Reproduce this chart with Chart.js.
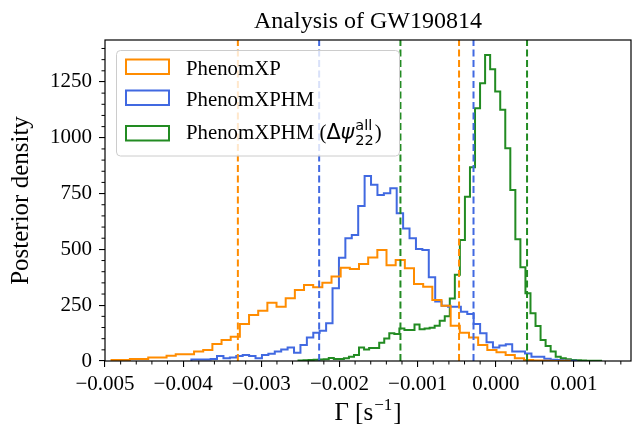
<!DOCTYPE html>
<html>
<head>
<meta charset="utf-8">
<script src="https://cdn.jsdelivr.net/npm/chart.js@4.4.0/dist/chart.umd.min.js"></script>
<style>
  html, body { margin: 0; padding: 0; background: #fff; }
  #wrap { width: 633px; height: 432px; }
</style>
</head>
<body>
<div id="wrap"><canvas id="myChart" width="633" height="432"></canvas></div>
<script>
// histogram bins: first edge, bin width, density per bin
const orangeStart = -0.004916;
const orangeWidth = 0.00011726;
const orangeCounts = [5, 5, 9, 9, 16, 16, 24, 30, 30, 42, 49, 76, 94, 109, 166, 206, 225, 261, 243, 281,
  318, 340, 330, 351, 378, 418, 412, 435, 464, 497, 429, 453, 415, 345, 333, 273, 248, 158, 127, 105,
  72, 49, 39, 27, 12, 4, 2, 1, 0, 1];

const blueStart = -0.003895;
const blueWidth = 0.0000821;
const blueCounts = [7, 7, 7, 9, 22, 12, 16, 22, 27, 22, 12, 27, 33, 42, 52, 61, 37,
  72, 105, 127, 136, 169, 326, 463, 550, 565, 694, 829, 789, 744, 751, 774, 662, 594, 550, 502, 497, 375, 266, 248,
  243, 243, 221, 211, 166, 124, 84, 61, 69, 75, 42, 42, 34, 19, 19, 10, 6, 4, 2, 1];

const greenStart = -0.002524;
const greenWidth = 0.00006452;
const greenCounts = [2, 3, 5, 6, 7, 8, 13, 9, 9, 12, 19, 27, 60, 51, 58, 58, 82, 101, 124, 121,
  146, 139, 139, 164, 142, 146, 149, 158, 180, 200, 280, 386, 542, 736, 868, 1132, 1244, 1371, 1307, 1207,
  1125, 953, 766, 545, 420, 303, 214, 157, 94, 67, 42, 19, 12, 8, 5, 3, 2, 1, 1, 1];

// 90% interval bounds (dashed lines)
const orangeBounds = [-0.0033, -0.00047];
const blueBounds = [-0.00226, -0.000285];
const greenBounds = [-0.00122, 0.00040];

const seriesLabels = ['PhenomXP', 'PhenomXPHM', 'PhenomXPHM'];
const colors = ['#ff8c00', '#4169e1', '#228b22'];

const xTicks = [-0.005, -0.004, -0.003, -0.002, -0.001, 0, 0.001];
const xTickLabels = ['\u22120.005', '\u22120.004', '\u22120.003', '\u22120.002', '\u22120.001', '0.000', '0.001'];
const yTicks = [0, 250, 500, 750, 1000, 1250];
const yTickLabels = ['0', '250', '500', '750', '1000', '1250'];

const xMin = -0.005, xMax = 0.00173;
const yMax = 1438;

const SERIF = '"Liberation Serif", "Times New Roman", serif';
const MATH = '"DejaVu Sans", sans-serif';

// outline of a step histogram
function stepPoints(start, width, counts) {
  const pts = [{ x: start, y: 0 }];
  for (let i = 0; i < counts.length; i++) {
    pts.push({ x: start + i * width, y: counts[i] });
  }
  pts.push({ x: start + counts.length * width, y: 0 });
  return pts;
}

function histSet(start, width, counts, color) {
  return {
    data: stepPoints(start, width, counts),
    borderColor: color,
    borderWidth: 2,
    stepped: true,
    pointRadius: 0,
    fill: false,
    order: 1
  };
}

function vline(x, color) {
  return {
    data: [{ x: x, y: 0 }, { x: x, y: yMax }],
    borderColor: color,
    borderWidth: 2,
    borderDash: [7, 3.5],
    pointRadius: 0,
    fill: false,
    order: 0
  };
}

const datasets = [
  histSet(orangeStart, orangeWidth, orangeCounts, colors[0]),
  histSet(blueStart, blueWidth, blueCounts, colors[1]),
  histSet(greenStart, greenWidth, greenCounts, colors[2])
];
[orangeBounds, blueBounds, greenBounds].forEach((b, i) => {
  b.forEach(v => datasets.push(vline(v, colors[i])));
});

const LEG_FS = 20.8;

const decorations = {
  id: 'decorations',
  afterDatasetsDraw(chart) {
    const ctx = chart.ctx;
    ctx.save();
    // legend box
    const bx = 116.5, by = 50.5, bw = 283, bh = 105.5, r = 4;
    ctx.beginPath();
    ctx.moveTo(bx + r, by);
    ctx.arcTo(bx + bw, by, bx + bw, by + bh, r);
    ctx.arcTo(bx + bw, by + bh, bx, by + bh, r);
    ctx.arcTo(bx, by + bh, bx, by, r);
    ctx.arcTo(bx, by, bx + bw, by, r);
    ctx.closePath();
    ctx.fillStyle = 'rgba(255,255,255,0.8)';
    ctx.fill();
    ctx.strokeStyle = '#cccccc';
    ctx.lineWidth = 1;
    ctx.stroke();

    const handleTops = [59.5, 90.5, 126];
    const baselines = [75, 105.5, 138.5];
    ctx.fillStyle = '#000';
    ctx.textAlign = 'left';
    ctx.textBaseline = 'alphabetic';
    for (let i = 0; i < 3; i++) {
      ctx.strokeStyle = colors[i];
      ctx.lineWidth = 2;
      ctx.strokeRect(126, handleTops[i], 43, 14.5);
      ctx.font = LEG_FS + 'px ' + SERIF;
      let x = 186;
      const y = baselines[i];
      if (i < 2) {
        ctx.fillText(seriesLabels[i], x, y);
      } else {
        const head = seriesLabels[i] + ' (';
        ctx.fillText(head, x, y);
        x += ctx.measureText(head).width;
        ctx.font = LEG_FS + 'px ' + MATH;
        ctx.fillText('\u0394', x, y);
        x += ctx.measureText('\u0394').width;
        ctx.font = 'italic ' + LEG_FS + 'px ' + MATH;
        ctx.fillText('\u03c8', x, y);
        x += ctx.measureText('\u03c8').width + 1;
        ctx.font = '14.5px ' + MATH;
        ctx.fillText('all', x, y - 8.5);
        ctx.fillText('22', x, y + 6.5);
        x += Math.max(ctx.measureText('all').width, ctx.measureText('22').width) + 1;
        ctx.font = LEG_FS + 'px ' + SERIF;
        ctx.fillText(')', x, y);
      }
    }
    ctx.restore();
  },
  afterDraw(chart) {
    const ctx = chart.ctx;
    const a = chart.chartArea;
    const xs = chart.scales.x, ys = chart.scales.y;
    ctx.save();
    ctx.strokeStyle = '#000';
    ctx.lineWidth = 1.2;
    ctx.strokeRect(a.left, a.top, a.right - a.left, a.bottom - a.top);

    // minor ticks
    ctx.lineWidth = 1;
    ctx.beginPath();
    for (let k = 1; k < 34; k++) {
      if (k % 5 === 0) continue;
      const px = xs.getPixelForValue(xMin + k * 0.0002);
      if (px > a.right) break;
      ctx.moveTo(px, a.bottom);
      ctx.lineTo(px, a.bottom + 3.5);
    }
    for (let k = 1; k < 29; k++) {
      if (k % 5 === 0) continue;
      const py = ys.getPixelForValue(k * 50);
      ctx.moveTo(a.left - 3.5, py);
      ctx.lineTo(a.left, py);
    }
    ctx.stroke();

    ctx.fillStyle = '#000';
    // title
    ctx.font = '24px ' + SERIF;
    ctx.textAlign = 'center';
    ctx.textBaseline = 'alphabetic';
    const cx = (a.left + a.right) / 2;
    ctx.fillText('Analysis of GW190814', cx, 28);

    // x axis label: Γ [s^-1]
    const big = '25px ' + SERIF, small = '17px ' + SERIF;
    ctx.font = big;
    const w1 = ctx.measureText('\u0393 [s').width;
    const w3 = ctx.measureText(']').width;
    ctx.font = small;
    const w2 = ctx.measureText('\u22121').width;
    let x = cx - (w1 + w2 + w3 + 2) / 2;
    ctx.textAlign = 'left';
    ctx.font = big;
    ctx.fillText('\u0393 [s', x, 420);
    x += w1 + 1;
    ctx.font = small;
    ctx.fillText('\u22121', x, 410);
    x += w2 + 1;
    ctx.font = big;
    ctx.fillText(']', x, 420);

    // y axis label
    ctx.translate(28, (a.top + a.bottom) / 2);
    ctx.rotate(-Math.PI / 2);
    ctx.textAlign = 'center';
    ctx.font = '25px ' + SERIF;
    ctx.fillText('Posterior density', 0, 0);
    ctx.restore();
  }
};

const tickFont = { family: SERIF, size: 21 };

const ctx = document.getElementById('myChart').getContext('2d');
new Chart(ctx, {
  type: 'line',
  data: { datasets: datasets },
  options: {
    responsive: false,
    animation: false,
    devicePixelRatio: 1,
    layout: { padding: { top: 40, right: 2, left: 0, bottom: 0 } },
    plugins: {
      legend: { display: false },
      title: { display: false },
      tooltip: { enabled: false }
    },
    scales: {
      x: {
        type: 'linear',
        min: xMin,
        max: xMax,
        afterBuildTicks: (scale) => { scale.ticks = xTicks.map(v => ({ value: v })); },
        afterFit: (scale) => { scale.height = 71; },
        ticks: {
          autoSkip: false,
          maxRotation: 0,
          padding: 5,
          color: '#000',
          font: tickFont,
          callback: (v, i) => xTickLabels[i]
        },
        grid: { display: true, drawOnChartArea: false, drawTicks: true, tickLength: 6, color: '#000', lineWidth: 1.1 },
        border: { display: false }
      },
      y: {
        type: 'linear',
        min: 0,
        max: yMax,
        afterBuildTicks: (scale) => { scale.ticks = yTicks.map(v => ({ value: v })); },
        afterFit: (scale) => { scale.width = 105; },
        ticks: {
          padding: 7,
          color: '#000',
          font: tickFont,
          callback: (v, i) => yTickLabels[i]
        },
        grid: { display: true, drawOnChartArea: false, drawTicks: true, tickLength: 6, color: '#000', lineWidth: 1.1 },
        border: { display: false }
      }
    }
  },
  plugins: [decorations]
});
</script>
</body>
</html>
